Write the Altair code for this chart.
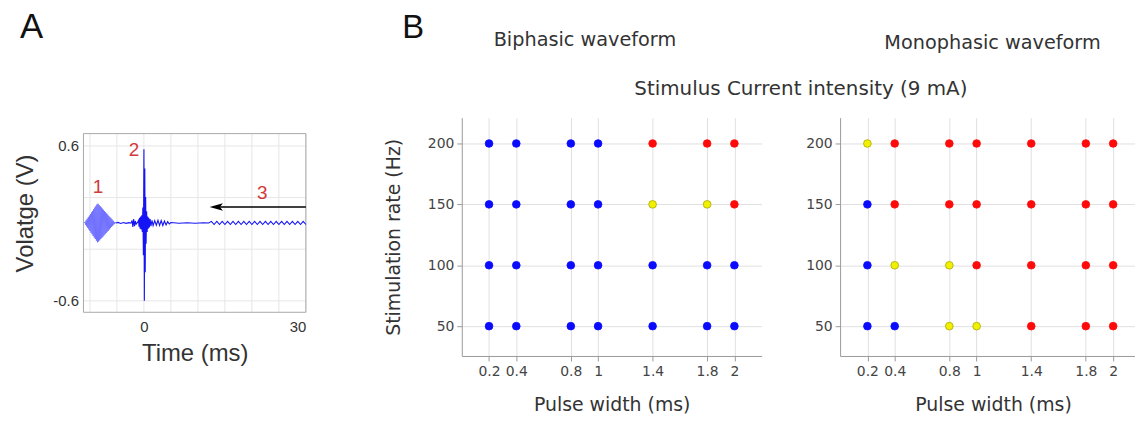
import altair as alt
import pandas as pd

# ---------------- Panel A: recorded voltage trace ----------------
burst_t = [-11.0, -10.9, -10.8, -10.7, -10.6, -10.5, -10.4, -10.3, -10.2, -10.1,
           -10.0, -9.9, -9.8, -9.7, -9.6, -9.5, -9.4, -9.3, -9.2, -9.1,
           -9.0, -8.9, -8.8, -8.7, -8.6, -8.5, -8.4, -8.3, -8.2, -8.1,
           -8.0, -7.9, -7.8, -7.7, -7.6, -7.5, -7.4, -7.3, -7.2, -7.1,
           -7.0, -6.9, -6.8, -6.7, -6.6, -6.5, -6.4, -6.3, -6.2, -6.1,
           -6.0, -5.9, -5.8, -5.7, -5.6, -5.5, -5.4, -5.3, -5.2]
burst_v = [0.0, 0.008, -0.014, 0.02, -0.026, 0.032, -0.038, 0.044, -0.05, 0.056,
           -0.062, 0.068, -0.075, 0.081, -0.087, 0.093, -0.1, 0.106, -0.112, 0.118,
           -0.124, 0.13, -0.137, 0.143, -0.15, 0.148, -0.143, 0.138, -0.134, 0.129,
           -0.124, 0.12, -0.115, 0.11, -0.106, 0.101, -0.096, 0.092, -0.087, 0.082,
           -0.078, 0.073, -0.068, 0.064, -0.059, 0.054, -0.05, 0.045, -0.04, 0.036,
           -0.031, 0.026, -0.022, 0.017, -0.012, 0.008, -0.005, 0.003, 0.0]

trace_t = [-5.2, -4.8, -4.3, -3.8, -3.3, -2.8, -2.4,
           -2.2, -2.05, -1.9, -1.75, -1.6, -1.45, -1.2,
           -1.0, -0.9, -0.8, -0.7, -0.6, -0.5, -0.4, -0.3, -0.2, -0.1,
           0.0, 0.08, 0.16, 0.24, 0.32, 0.4, 0.5, 0.6, 0.7, 0.8, 0.9, 1.0,
           1.15, 1.3, 1.5, 1.7, 2.0, 2.3, 2.6, 2.9, 3.2, 3.5, 3.8, 4.1, 4.4, 4.7, 5.0,
           6.5, 8.0, 9.5, 11.0, 12.0,
           12.5, 13.0, 13.5, 14.0, 14.5, 15.0, 15.5, 16.0, 16.5, 17.0, 17.5, 18.0,
           18.5, 19.0, 19.5, 20.0, 20.5, 21.0, 21.5, 22.0, 22.5, 23.0, 23.5, 24.0,
           24.5, 25.0, 25.5, 26.0, 26.5, 27.0, 27.5, 28.0, 28.5, 29.0, 29.5, 30.0]
trace_v = [0.0, 0.004, -0.004, 0.003, -0.003, 0.002, -0.002,
           0.02, -0.03, 0.03, -0.025, 0.015, -0.01, 0.004,
           0.02, -0.03, 0.04, -0.045, 0.05, -0.05, 0.06, -0.07, 0.12, -0.25,
           0.57, -0.6, 0.42, -0.38, 0.2, -0.16, 0.09, -0.07, 0.05, -0.045, 0.04, -0.035,
           0.03, -0.025, 0.02, -0.02, 0.018, -0.018, 0.02, -0.02, 0.018, -0.02, 0.015, -0.015, 0.01, -0.008, 0.003,
           -0.002, 0.002, -0.002, 0.001, 0.0,
           0.012, -0.012, 0.012, -0.012, 0.012, -0.012, 0.012, -0.012, 0.012, -0.012, 0.012, -0.012,
           0.012, -0.012, 0.012, -0.012, 0.012, -0.012, 0.012, -0.012, 0.012, -0.012, 0.012, -0.012,
           0.012, -0.012, 0.012, -0.012, 0.012, -0.012, 0.012, -0.012, 0.012, -0.012, 0.012, -0.012]

a_x_range = [-11.2, 30]          # box limits (ms)
a_y_range = [-0.69, 0.69]        # box limits (V)
a_y_view_top = 0.813             # top of the panel's drawing area, above the box
a_x_grid = [-10, -5, 0, 5, 10, 15, 20, 25, 30]
a_x_labels = [0, 30]
a_y_grid = [-0.6, -0.4, -0.2, 0, 0.2, 0.4, 0.6]
a_y_labels = [-0.6, 0, 0.6]

note_text = ["1", "2", "3"]
note_t = [-8.5, -1.85, 21.9]
note_v = [0.28, 0.56, 0.23]
arrow_t = [13.4, 30]
arrow_v = [0.123, 0.123]

# ---------------- Panel B: response grids ----------------
pulse_widths = [0.2, 0.4, 0.8, 1, 1.4, 1.8, 2]
pulse_labels = ["0.2", "0.4", "0.8", "1", "1.4", "1.8", "2"]
rates = [200, 150, 100, 50]
b_y_range = [25.5, 221.2]
biphasic = [
    ["B", "B", "B", "B", "R", "R", "R"],
    ["B", "B", "B", "B", "Y", "Y", "R"],
    ["B", "B", "B", "B", "B", "B", "B"],
    ["B", "B", "B", "B", "B", "B", "B"],
]
monophasic = [
    ["Y", "R", "R", "R", "R", "R", "R"],
    ["B", "R", "R", "R", "R", "R", "R"],
    ["B", "Y", "Y", "R", "R", "R", "R"],
    ["B", "B", "Y", "Y", "R", "R", "R"],
]
outcome_codes = ["B", "Y", "R"]
outcome_fill = ["#0a0aff", "#f0f000", "#ff0a0a"]
outcome_edge = ["#0a0aff", "#a9a900", "#ff0a0a"]

# ---------------- Panel A chart ----------------
ARIAL = "Liberation Sans"
VERD = "DejaVu Sans"

burst_df = pd.DataFrame({"t": burst_t, "v": burst_v})
trace_df = pd.DataFrame({"t": trace_t, "v": trace_v})
notes_df = pd.DataFrame({"label": note_text, "t": note_t, "v": note_v})
arrow_df = pd.DataFrame({"t": [arrow_t[0]], "t2": [arrow_t[1]], "v": [arrow_v[0]]})
vgrid_df = pd.DataFrame({"t": a_x_grid, "v": [a_y_range[0]] * len(a_x_grid),
                         "v2": [a_y_range[1]] * len(a_x_grid)})
box_df = pd.DataFrame({"t": [a_x_range[0]], "t2": [a_x_range[1]],
                       "v": [a_y_range[0]], "v2": [a_y_range[1]]})

a_xlab = "indexof(%s, datum.value) >= 0 ? datum.label : ''" % str(a_x_labels)
a_ylab = "indexof(%s, datum.value) >= 0 ? replace(datum.label, '\u2212', '-') : ''" % str(a_y_labels)

ax_x = alt.X("t:Q", scale=alt.Scale(domain=a_x_range, nice=False, zero=False),
             axis=alt.Axis(values=a_x_grid, labelExpr=a_xlab, title="Time (ms)",
                           domain=False, ticks=False, grid=False,
                           labelFont=ARIAL, labelFontSize=15, labelColor="#333333",
                           labelPadding=7, titleFont=ARIAL, titleFontSize=24,
                           titleFontWeight="normal", titleColor="#333333", titlePadding=8))
ax_y = alt.Y("v:Q", scale=alt.Scale(domain=[a_y_range[0], a_y_view_top], nice=False, zero=False),
             axis=alt.Axis(values=a_y_grid, labelExpr=a_ylab, title="Volatge (V)",
                           domain=False, ticks=False, gridColor="#e6e6e6",
                           labelFont=ARIAL, labelFontSize=15, labelColor="#333333",
                           labelPadding=5, titleFont=ARIAL, titleFontSize=24,
                           titleFontWeight="normal", titleColor="#333333", titlePadding=15,
                           titleY=96))

vgrid = alt.Chart(vgrid_df).mark_rule(color="#e6e6e6", strokeWidth=1).encode(
    x=ax_x, y=ax_y, y2="v2:Q")
box = alt.Chart(box_df).mark_rect(fillOpacity=0, stroke="#a8a8a8", strokeWidth=1).encode(
    x="t:Q", x2="t2:Q", y="v:Q", y2="v2:Q")
burst_line = alt.Chart(burst_df).mark_line(color="#7070ff", strokeWidth=1.0).encode(x="t:Q", y="v:Q")
trace_line = alt.Chart(trace_df).mark_line(color="#1414f5", strokeWidth=1.1).encode(x="t:Q", y="v:Q")
notes = alt.Chart(notes_df).mark_text(font=ARIAL, fontSize=19, color="#d23a3a").encode(
    x="t:Q", y="v:Q", text="label:N")
arrow_line = alt.Chart(arrow_df).mark_rule(color="black", strokeWidth=1.4).encode(
    x="t:Q", x2="t2:Q", y="v:Q")
arrow_head = alt.Chart(arrow_df).mark_point(
    shape="M-1,0L1,-0.55L0.55,0L1,0.55Z", filled=True, color="black", opacity=1, size=180
).encode(x="t:Q", y="v:Q")

panel_a = alt.layer(vgrid, box, burst_line, trace_line, arrow_line, arrow_head, notes).properties(
    width=224, height=196,
    view=alt.ViewBackground(strokeOpacity=0),
    title=alt.TitleParams("A", anchor="start", frame="group", font=ARIAL, fontSize=35,
                          fontWeight="normal", color="#111111", dx=-64, offset=45,
                          baseline="alphabetic"),
)


def spacer(width, title, anchor, dx, offset, size, font):
    return alt.Chart(pd.DataFrame({"s": [0]})).mark_point(opacity=0).encode(
        x=alt.value(0), y=alt.value(0)
    ).properties(
        width=width, height=240, view=alt.ViewBackground(strokeOpacity=0),
        title=alt.TitleParams(title, anchor=anchor, frame="group", font=font, fontSize=size,
                              fontWeight="normal", color="#111111" if size > 25 else "#333333",
                              dx=dx, offset=offset, baseline="alphabetic"),
    )


# ---------------- Panel B charts ----------------
b_xlab = "%s[indexof(%s, datum.value)]" % (str(pulse_labels), str(pulse_widths))


def grid_panel(grid, title, dx, offset, x_max, width, y_title, x_title_pos):
    rows = []
    for i, r in enumerate(rates):
        for j, pw in enumerate(pulse_widths):
            rows.append({"pw": pw, "rate": r, "res": grid[i][j]})
    df = pd.DataFrame(rows)
    axis_common = dict(domainColor="#9a9a9a", tickColor="#9a9a9a", tickSize=5,
                       gridColor="#e0e0e0", labelFont=VERD, labelFontSize=14,
                       labelColor="#444444", titleFont=VERD, titleFontSize=19,
                       titleFontWeight="normal", titleColor="#333333")
    return alt.Chart(df).mark_circle(size=60, opacity=1, strokeWidth=0.8).encode(
        x=alt.X("pw:Q", scale=alt.Scale(domain=[0, x_max], nice=False, zero=False),
                axis=alt.Axis(values=pulse_widths, labelExpr=b_xlab, title="Pulse width (ms)",
                              labelPadding=4, titlePadding=17, titleX=x_title_pos,
                              **axis_common)),
        y=alt.Y("rate:Q", scale=alt.Scale(domain=b_y_range, nice=False, zero=False),
                axis=alt.Axis(values=rates, format="d", title=y_title, labelPadding=3,
                              titlePadding=24, **axis_common)),
        color=alt.Color("res:N", scale=alt.Scale(domain=outcome_codes, range=outcome_fill), legend=None),
        stroke=alt.Stroke("res:N", scale=alt.Scale(domain=outcome_codes, range=outcome_edge), legend=None),
    ).properties(
        width=width, height=240,
        view=alt.ViewBackground(strokeOpacity=0),
        title=alt.TitleParams(title, anchor="middle", frame="group", font=VERD, fontSize=19.4,
                              fontWeight="normal", color="#333333", dx=dx, offset=offset,
                              baseline="alphabetic"),
    )


panel_b1 = grid_panel(biphasic, "Biphasic waveform", -27, 53, 2.2, 302, "Stimulation rate (Hz)", 151)
panel_b2 = grid_panel(monophasic, "Monophasic waveform", 5, 50, 2.16, 297, "", 154)

gap_ab = spacer(157, "B", "start", 97, 45, 33, ARIAL)
gap_bb = spacer(79, "Stimulus Current intensity (9 mA)", "middle", 0, 0, 20, VERD)

chart = alt.hconcat(
    panel_a, gap_ab, panel_b1, gap_bb, panel_b2, spacing=0, bounds="flush",
).resolve_scale(color="independent", stroke="independent").properties(
    padding={"left": 6, "top": 1, "right": 0, "bottom": 0},
    background="white",
)

chart.save("out.html", embed_options={"renderer": "svg", "actions": False})
